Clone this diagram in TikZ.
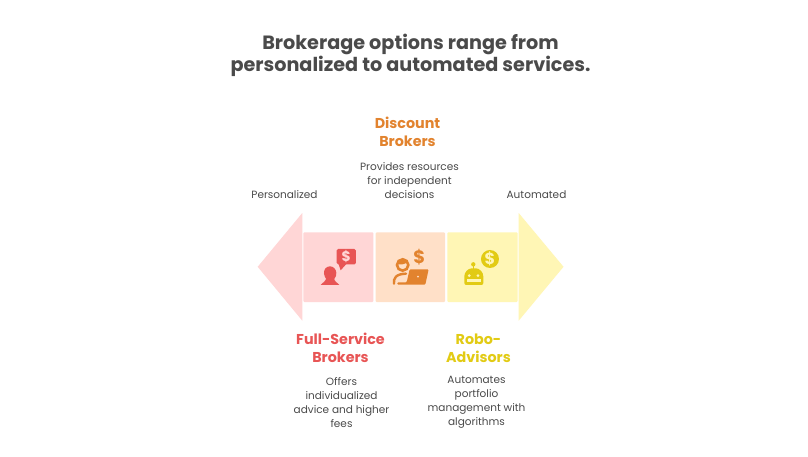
\documentclass[tikz,border=0pt]{standalone}
\usepackage{fontspec}
\setmainfont{Poppins}
\definecolor{pinkbg}{HTML}{FFD6D6}
\definecolor{peachbg}{HTML}{FFE0C8}
\definecolor{yellowbg}{HTML}{FFF6B5}
\definecolor{redfg}{HTML}{E85555}
\definecolor{orangefg}{HTML}{E2832E}
\definecolor{goldfg}{HTML}{E2CB14}
\definecolor{inkc}{HTML}{4A4A4A}
\tikzset{
 titletext/.style={text=inkc,align=center,font=\fontsize{19.2}{22.6}\selectfont\bfseries,inner sep=0pt},
 headtext/.style={align=center,font=\fontsize{14.3}{18}\selectfont\bfseries,inner sep=0pt},
 bodytext/.style={text=inkc,align=center,font=\fontsize{10.5}{14}\selectfont,inner sep=0pt},
 panel/.style={rounded corners=1pt},
 iconframe/.style={shift={(250,205)},x=0.3333pt,y=-0.3333pt},
}
\begin{document}
\begin{tikzpicture}[x=1pt,y=-1pt]
\useasboundingbox (0,0) rectangle (808,457);
\fill[white] (0,0) rectangle (808,457);
% arrow heads and panels
\fill[pinkbg] (257.7,266.8) -- (302.3,213) -- (302.3,320.7) -- cycle;
\fill[yellowbg] (563.5,266.8) -- (518.7,213) -- (518.7,320.7) -- cycle;
\fill[pinkbg,panel] (303.3,232.3) rectangle (373.3,302);
\fill[peachbg,panel] (375.7,232.3) rectangle (445,302);
\fill[yellowbg,panel] (447.3,232.3) rectangle (517.7,302);
% red icon
\begin{scope}[iconframe]
\fill[redfg,rounded corners=1.5pt] (260,132) rectangle (318,178);
\fill[redfg] (264,172) -- (272,196) -- (290,176) -- cycle;
\node[text=pinkbg,font=\fontsize{14}{14}\selectfont\bfseries,inner sep=0pt] (reddollar) at (289,155) {\$};
\fill[redfg] (240,184) .. controls (227,184) and (221,195) .. (222,206)
  .. controls (223,214) and (226,218) .. (228,221)
  .. controls (228,228) and (218,232) .. (212,240) -- (268,240)
  .. controls (262,232) and (252,228) .. (253,222)
  .. controls (257,216) and (260,210) .. (259,203)
  .. controls (258,192) and (250,184) .. (240,184) -- cycle;
% orange icon
\draw[orangefg,line width=2.6pt] (458,180) circle[radius=17];
\fill[orangefg] (442,176) .. controls (450,180) and (462,180) .. (474,170) .. controls (470,163) and (465,160) .. (458,160) .. controls (449,160) and (443,167) .. (442,176) -- cycle;
\draw[orangefg,line width=2.4pt,line cap=round] (432,236) .. controls (430,220) and (437,207) .. (468,206);
\fill[orangefg,rounded corners=1pt] (479,193) -- (536,193) -- (526,239) -- (442,239) -- (442,232) -- (470,232) -- cycle;
\fill[peachbg] (504,215) circle[radius=3];
\node[text=orangefg,font=\fontsize{18}{18}\selectfont\bfseries,inner sep=0pt] (orangedollar) at (508,157) {\$};
% yellow icon
\fill[goldfg] (720,162) circle[radius=27];
\node[text=yellowbg,font=\fontsize{16}{16}\selectfont\bfseries,inner sep=0pt] (golddollar) at (720,162) {\$};
\fill[goldfg] (670,178) circle[radius=6.5];
\fill[goldfg] (668,178) rectangle (672,195);
\fill[goldfg,rounded corners=2pt] (643,240) -- (643,220) .. controls (643,202) and (654,190) .. (671.5,190) .. controls (689,190) and (700,202) .. (700,220) -- (700,240) -- cycle;
\fill[yellowbg] (658,212) circle[radius=4.5];
\fill[yellowbg] (684,212) circle[radius=4.5];
\fill[yellowbg] (650,223) rectangle (693,231);
\end{scope}
% text
\node[titletext] (title) at (410.5,55.5) {Brokerage options range from\\personalized to automated services.};
\node[headtext,text=orangefg] (dischead) at (407.5,132) {Discount\\Brokers};
\node[bodytext] (discbody) at (409.5,181) {Provides resources\\for independent\\decisions};
\node[bodytext] (personal) at (284.5,194.5) {Personalized};
\node[bodytext] (autom) at (536.5,194.5) {Automated};
\node[headtext,text=redfg] (fullhead) at (340.5,348) {Full-Service\\Brokers};
\node[bodytext] (fullbody) at (341.5,402.5) {Offers\\individualized\\advice and higher\\fees};
\node[headtext,text=goldfg] (robohead) at (478.5,348) {Robo-\\Advisors};
\node[bodytext] (robobody) at (476.5,402.5) {Automates\\portfolio\\management with\\algorithms};
\end{tikzpicture}
\end{document}
